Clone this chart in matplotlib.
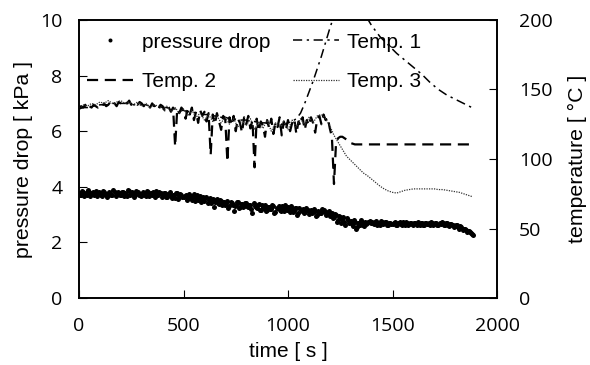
import numpy as np
import matplotlib
matplotlib.use("Agg")
import matplotlib.pyplot as plt

# pressure drop readings (kPa), two interleaved sets of samples
t_press_a = np.arange(0, 1881, 10)
pressure_a = [
    3.78, 3.70, 3.82, 3.74, 3.69, 3.80, 3.76, 3.71, 3.85, 3.73,
    3.77, 3.68, 3.81, 3.75, 3.72, 3.79, 3.70, 3.83, 3.74, 3.77,
    3.71, 3.80, 3.76, 3.68, 3.84, 3.73, 3.78, 3.70, 3.81, 3.75,
    3.72, 3.79, 3.67, 3.82, 3.74, 3.70, 3.78, 3.86, 3.69, 3.76,
    3.70, 3.77, 3.64, 3.74, 3.68, 3.72, 3.60, 3.76, 3.66, 3.71,
    3.62, 3.70, 3.58, 3.67, 3.54, 3.73, 3.60, 3.52, 3.66, 3.56,
    3.48, 3.62, 3.53, 3.40, 3.57, 3.47, 3.55, 3.38, 3.50, 3.44,
    3.35, 3.49, 3.30, 3.42, 3.12, 3.36, 3.45, 3.28, 3.39, 3.32,
    3.40, 3.26, 3.35, 3.05, 3.31, 3.22, 3.38, 3.18, 3.29, 3.34,
    3.15, 3.27, 3.21, 3.32, 3.10, 3.24, 3.18, 3.30, 3.13, 3.22,
    3.26, 3.08, 3.19, 3.12, 3.24, 3.05, 3.17, 3.21, 3.10, 3.15,
    3.02, 3.18, 3.09, 3.14, 2.98, 3.11, 3.06, 3.16, 3.00, 3.08,
    2.95, 3.05, 2.90, 2.99, 2.80, 2.92, 2.84, 2.72, 2.88, 2.68,
    2.78, 2.60, 2.74, 2.55, 2.70, 2.80, 2.64, 2.75, 2.69, 2.78,
    2.72, 2.66, 2.76, 2.70, 2.64, 2.73, 2.68, 2.74, 2.62, 2.70,
    2.67, 2.73, 2.64, 2.70, 2.66, 2.72, 2.61, 2.69, 2.65, 2.71,
    2.63, 2.68, 2.72, 2.64, 2.69, 2.62, 2.70, 2.66, 2.61, 2.68,
    2.65, 2.70, 2.62, 2.67, 2.71, 2.63, 2.68, 2.60, 2.66, 2.64,
    2.58, 2.62, 2.50, 2.55, 2.47, 2.44, 2.40, 2.36, 2.30,
]
t_press_b = np.arange(5, 1886, 10)
pressure_b = [
    3.72, 3.84, 3.66, 3.79, 3.88, 3.68, 3.81, 3.74, 3.66, 3.80,
    3.70, 3.86, 3.73, 3.65, 3.82, 3.71, 3.87, 3.67, 3.80, 3.72,
    3.83, 3.66, 3.74, 3.89, 3.69, 3.81, 3.65, 3.84, 3.72, 3.67,
    3.81, 3.70, 3.85, 3.66, 3.79, 3.83, 3.64, 3.75, 3.80, 3.65,
    3.78, 3.62, 3.75, 3.81, 3.58, 3.69, 3.77, 3.55, 3.74, 3.63,
    3.68, 3.52, 3.75, 3.61, 3.66, 3.49, 3.70, 3.63, 3.47, 3.64,
    3.58, 3.43, 3.60, 3.49, 3.28, 3.54, 3.41, 3.52, 3.33, 3.47,
    3.40, 3.25, 3.46, 3.36, 3.31, 3.44, 3.22, 3.38, 3.27, 3.41,
    3.30, 3.36, 3.20, 3.43, 3.27, 3.33, 3.15, 3.36, 3.24, 3.12,
    3.28, 3.19, 3.36, 3.06, 3.25, 3.30, 3.12, 3.23, 3.34, 3.16,
    3.20, 3.30, 3.11, 3.22, 2.98, 3.25, 3.14, 3.06, 3.23, 3.18,
    3.12, 3.05, 3.21, 2.95, 3.13, 3.04, 3.19, 3.10, 3.07, 3.14,
    3.00, 2.86, 3.02, 2.75, 2.94, 2.70, 2.90, 2.62, 2.80, 2.74,
    2.66, 2.82, 2.50, 2.68, 2.62, 2.72, 2.58, 2.66, 2.74, 2.70,
    2.68, 2.74, 2.63, 2.71, 2.76, 2.66, 2.72, 2.64, 2.71, 2.67,
    2.71, 2.64, 2.69, 2.74, 2.62, 2.68, 2.73, 2.63, 2.70, 2.66,
    2.69, 2.64, 2.66, 2.70, 2.63, 2.71, 2.65, 2.69, 2.72, 2.63,
    2.70, 2.64, 2.69, 2.72, 2.61, 2.70, 2.64, 2.66, 2.62, 2.56,
    2.62, 2.54, 2.58, 2.45, 2.50, 2.38, 2.42, 2.33, 2.27,
]

# Temp. 2, every 10 s (degC)
t_temp2 = np.arange(0, 1881, 10)
temp2 = [
    136, 138, 137, 139, 136, 138, 137, 139, 138, 137,
    139, 138, 140, 138, 139, 141, 139, 140, 138, 141,
    140, 139, 141, 140, 142, 139, 141, 140, 139, 141,
    140, 138, 140, 139, 137, 140, 138, 139, 136, 139,
    138, 135, 138, 137, 134, 137, 109, 136, 133, 137,
    135, 129, 136, 132, 137, 128, 134, 126, 135, 131,
    134, 127, 133, 103, 132, 125, 133, 127, 121, 131,
    128, 98, 130, 124, 131, 120, 129, 126, 119, 130,
    125, 131, 122, 128, 94, 129, 120, 127, 124, 116,
    128, 122, 129, 118, 126, 123, 130, 117, 127, 121,
    128, 120, 126, 129, 118, 127, 124, 130, 121, 128,
    124, 130, 126, 119, 129, 131, 125, 132, 128, 130,
    122, 116, 82, 112, 115, 116, 116, 115, 114, 112,
    111.5, 111, 110.5, 110.5, 110.5, 110.5, 110.5, 110.5, 110.5, 110.5,
    110.5, 110.5, 110.5, 110.5, 110.5, 110.5, 110.5, 110.5, 110.5, 110.5,
    110.5, 110.5, 110.5, 110.5, 110.5, 110.5, 110.5, 110.5, 110.5, 110.5,
    110.5, 110.5, 110.5, 110.5, 110.5, 110.5, 110.5, 110.5, 110.5, 110.5,
    110.5, 110.5, 110.5, 110.5, 110.5, 110.5, 110.5, 110.5, 110.5, 110.5,
    110.5, 110.5, 110.5, 110.5, 110.5, 110.5, 110.5, 110.5, 110.5,
]

# Temp. 1 and Temp. 3, every 20 s (degC)
t_temp = np.arange(0, 1881, 20)
temp1 = [
    136, 137, 137, 138, 138, 139, 139, 139, 140, 140,
    140, 140, 140, 139, 139, 139, 139, 138, 138, 138,
    137, 137, 136, 136, 135, 135, 134, 134, 133, 133,
    132, 132, 131, 131, 130, 130, 129, 129, 128, 128,
    128, 127, 127, 126, 126, 126, 125, 125, 125, 125,
    126, 127, 129, 133, 140, 148, 156, 165, 174, 184,
    194, 203, 210, 215, 218, 219, 217, 213, 207, 201,
    196, 192, 188, 185, 182, 179, 176, 173.5, 171, 168.5,
    166, 163.5, 161, 158, 155, 152.5, 150, 148, 146, 144.5,
    143, 141.5, 140, 138.5, 137,
]
temp3 = [
    137, 139, 138, 140, 139, 141, 140, 142, 140, 141,
    142, 140, 141, 139, 141, 138, 140, 137, 139, 138,
    136, 138, 134, 137, 133, 136, 131, 135, 130, 133,
    128, 132, 127, 131, 126, 130, 125, 129, 123, 128,
    124, 129, 121, 127, 122, 128, 120, 126, 123, 127,
    121, 128, 123, 129, 124, 130, 126, 131, 132, 129,
    124, 117, 112, 107, 102, 99, 96, 93, 90, 88,
    85.5, 83, 80.5, 78.5, 77, 76, 75.5, 76.5, 77.5, 78,
    78.5, 78.5, 78.5, 78.5, 78.5, 78.5, 78, 78, 77.5, 77,
    76.5, 76, 75, 74, 73,
]

x_ticks = [0, 500, 1000, 1500, 2000]
p_ticks = [0, 2, 4, 6, 8, 10]
t_ticks = [0, 50, 100, 150, 200]

label_font = "Liberation Sans"
tick_font = "Open Sans"

fig = plt.figure(figsize=(5.9, 3.65), dpi=100)
ax = fig.add_axes([79 / 590, 67 / 365, 418 / 590, 278 / 365])
ax2 = ax.twinx()

p_line, = ax.plot(t_press_a, pressure_a, linestyle="none", marker="o",
                  markersize=3.6, color="black", markeredgewidth=0,
                  label="pressure drop")
ax.plot(t_press_b, pressure_b, linestyle="none", marker="o",
        markersize=3.6, color="black", markeredgewidth=0)
l1, = ax2.plot(t_temp, temp1, color="black", linewidth=1.1,
               dashes=(6, 3, 1.5, 3), label="Temp. 1")
l2, = ax2.plot(t_temp2, temp2, color="black", linewidth=1.6,
               dashes=(5, 3), label="Temp. 2")
l3, = ax2.plot(t_temp, temp3, color="#333333", linewidth=0.9,
               dashes=(1, 1), label="Temp. 3")

ax.set_xlim(0, 2000)
ax.set_ylim(0, 10)
ax2.set_ylim(0, 200)
ax.set_xticks(x_ticks)
ax.set_yticks(p_ticks)
ax2.set_yticks(t_ticks)

for a in (ax, ax2):
    for s in a.spines.values():
        s.set_linewidth(1.2)
ax.tick_params(axis="both", direction="in", length=6, width=0.8,
               labelsize=14)
ax.tick_params(axis="y", pad=12)
ax.tick_params(axis="x", pad=14)
ax2.tick_params(axis="y", direction="in", length=6, width=0.8,
                labelsize=14, pad=16)
for lab in ax.get_xticklabels() + ax.get_yticklabels() + ax2.get_yticklabels():
    lab.set_fontfamily(tick_font)

ax.set_xlabel("time [ s ]", fontsize=15, family=label_font, labelpad=5)
ax.set_ylabel("pressure drop [ kPa ]", fontsize=15.3, family=label_font)
ax2.set_ylabel("temperature [ °C ]", fontsize=15.3, family=label_font)
ax.yaxis.set_label_coords(-0.11, 0.5)
ax2.yaxis.set_label_coords(1.17, 0.5)

leg = ax.legend([p_line, l2, l1, l3],
                ["pressure drop", "Temp. 2", "Temp. 1", "Temp. 3"],
                ncol=2, frameon=False, loc="upper left",
                bbox_to_anchor=(0.0, 0.985), borderaxespad=0,
                prop={"family": label_font, "size": 15},
                handlelength=2.2, handletextpad=0.4, columnspacing=1.1,
                labelspacing=1.0, markerscale=0.8)

fig.savefig("out.png", dpi=100)
plt.close(fig)
